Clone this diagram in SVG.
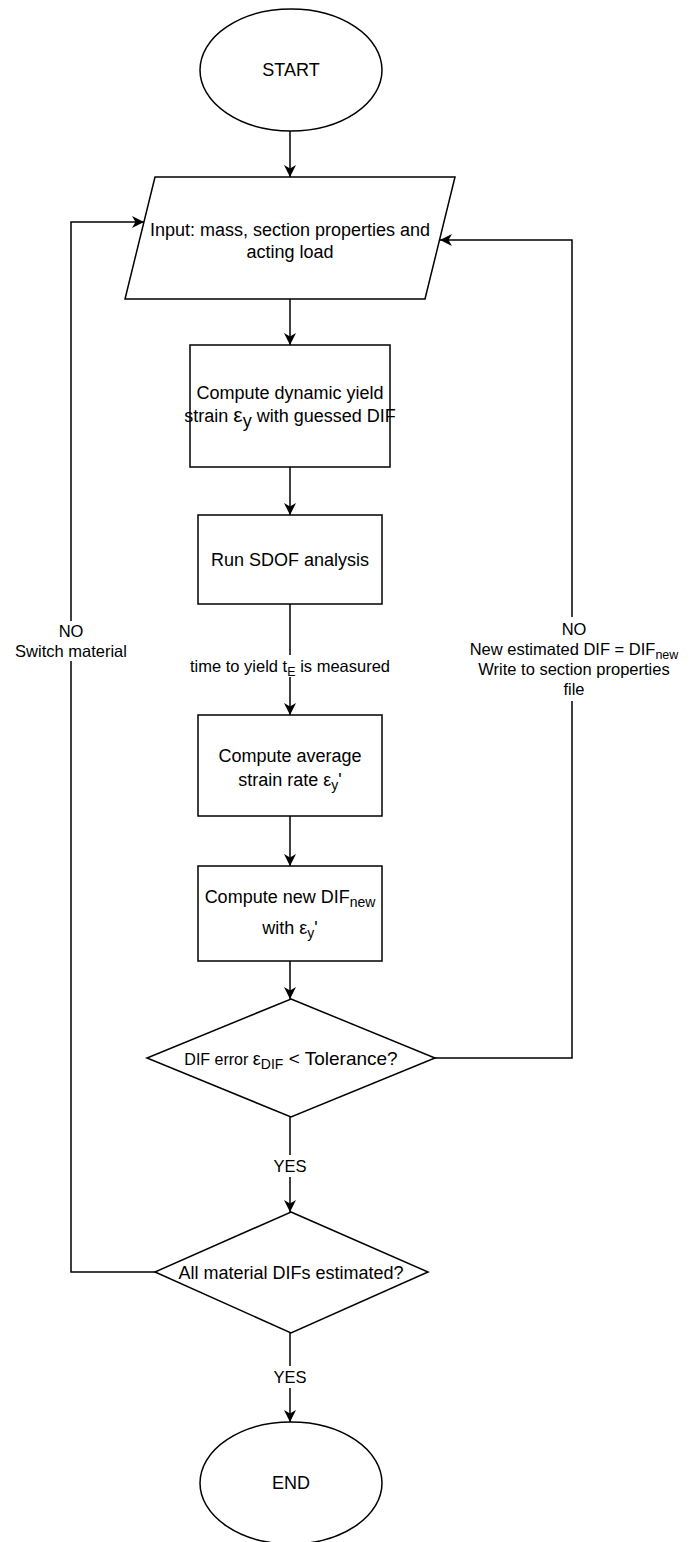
<svg xmlns="http://www.w3.org/2000/svg" width="693" height="1542" viewBox="0 0 693 1542">
<defs>
<marker id="arr" markerUnits="userSpaceOnUse" markerWidth="13" markerHeight="12" refX="12" refY="6" orient="auto">
<path d="M0,0 L12,6 L0,12 L3.5,6 Z" fill="#000"/>
</marker>
<style>
.shape{fill:#fff;stroke:#000;stroke-width:1.5}
.edge{fill:none;stroke:#000;stroke-width:1.5}
.arrow{marker-end:url(#arr)}
text{font-family:"Liberation Sans",Arial,Helvetica,sans-serif;fill:#000;text-anchor:middle}
.t{font-size:18px}
.lbl{font-size:16.5px}
.bg{fill:#fff;stroke:none}
</style>
</defs>
<rect width="693" height="1542" fill="#fff"/>
<g id="connectors">
<path class="edge arrow" d="M290,131 L290,177"/>
<path class="edge arrow" d="M290,299 L290,345"/>
<path class="edge arrow" d="M290,467 L290,515"/>
<path class="edge arrow" d="M290,604 L290,715"/>
<path class="edge arrow" d="M290,816 L290,866"/>
<path class="edge arrow" d="M290,961 L290,999"/>
<path class="edge arrow" d="M290,1117 L290,1212"/>
<path class="edge arrow" d="M290,1333 L290,1422"/>
<path class="edge arrow" d="M435,1058 L572,1058 L572,240 L440,240"/>
<path class="edge arrow" d="M155,1272 L71,1272 L71,222 L144,222"/>
<g id="edge-labels">
<rect class="bg" x="190" y="655" width="200" height="22"/>
<text class="lbl" x="290" y="672">time to yield t<tspan font-size="12.5px" dy="4">E</tspan><tspan dy="-4"> is measured</tspan></text>
<rect class="bg" x="274" y="1155" width="32" height="22"/>
<text class="lbl" x="290" y="1172">YES</text>
<rect class="bg" x="274" y="1366" width="32" height="22"/>
<text class="lbl" x="290" y="1383">YES</text>
<rect class="bg" x="460" y="617" width="230" height="84"/>
<text class="lbl" x="574" y="635">NO</text>
<text class="lbl" x="574" y="655">New estimated DIF = DIF<tspan font-size="12.5px" dy="4">new</tspan></text>
<text class="lbl" x="574" y="675">Write to section properties</text>
<text class="lbl" x="574" y="695">file</text>
<rect class="bg" x="10" y="621" width="122" height="40"/>
<text class="lbl" x="71" y="637">NO</text>
<text class="lbl" x="71" y="657">Switch material</text>
</g>
</g>
<g id="start">
<ellipse class="shape" cx="291" cy="70" rx="91" ry="61"/>
<text class="t" x="291" y="76">START</text>
</g>
<g id="input">
<polygon class="shape" points="155,177 455,177 425,299 125,299"/>
<text class="t" x="290" y="236">Input: mass, section properties and</text>
<text class="t" x="290" y="258">acting load</text>
</g>
<g id="compute-yield">
<rect class="shape" x="190" y="345" width="200" height="122"/>
<text class="t" x="290" y="399">Compute dynamic yield</text>
<text class="t" x="290" y="422">strain <tspan font-size="21px">ε</tspan><tspan dy="5">y</tspan><tspan dy="-5"> with guessed DIF</tspan></text>
</g>
<g id="run-sdof">
<rect class="shape" x="198" y="515" width="184" height="89"/>
<text class="t" x="290" y="566">Run SDOF analysis</text>
</g>
<g id="compute-rate">
<rect class="shape" x="198" y="715" width="184" height="101"/>
<text class="t" x="290" y="762">Compute average</text>
<text class="t" x="290" y="786">strain rate ε<tspan font-size="14px" dy="4">y</tspan><tspan dy="-4">'</tspan></text>
</g>
<g id="compute-dif">
<rect class="shape" x="198" y="866" width="184" height="95"/>
<text class="t" x="290" y="903">Compute new DIF<tspan font-size="14px" dy="4">new</tspan></text>
<text class="t" x="290" y="934">with ε<tspan font-size="14px" dy="4">y</tspan><tspan dy="-4">'</tspan></text>
</g>
<g id="decision-dif">
<polygon class="shape" points="291,999 435,1058 291,1117 147,1058"/>
<text class="t" x="291" y="1065"><tspan font-size="16px">DIF error </tspan>ε<tspan font-size="14px" dy="4">DIF</tspan><tspan dy="-4" font-size="19px"> &lt; Tolerance?</tspan></text>
</g>
<g id="decision-materials">
<polygon class="shape" points="291,1212 428,1272 291,1333 155,1272"/>
<text class="t" x="291" y="1279">All material DIFs estimated?</text>
</g>
<g id="end">
<ellipse class="shape" cx="291" cy="1483" rx="91" ry="61"/>
<text class="t" x="291" y="1489">END</text>
</g>
</svg>
